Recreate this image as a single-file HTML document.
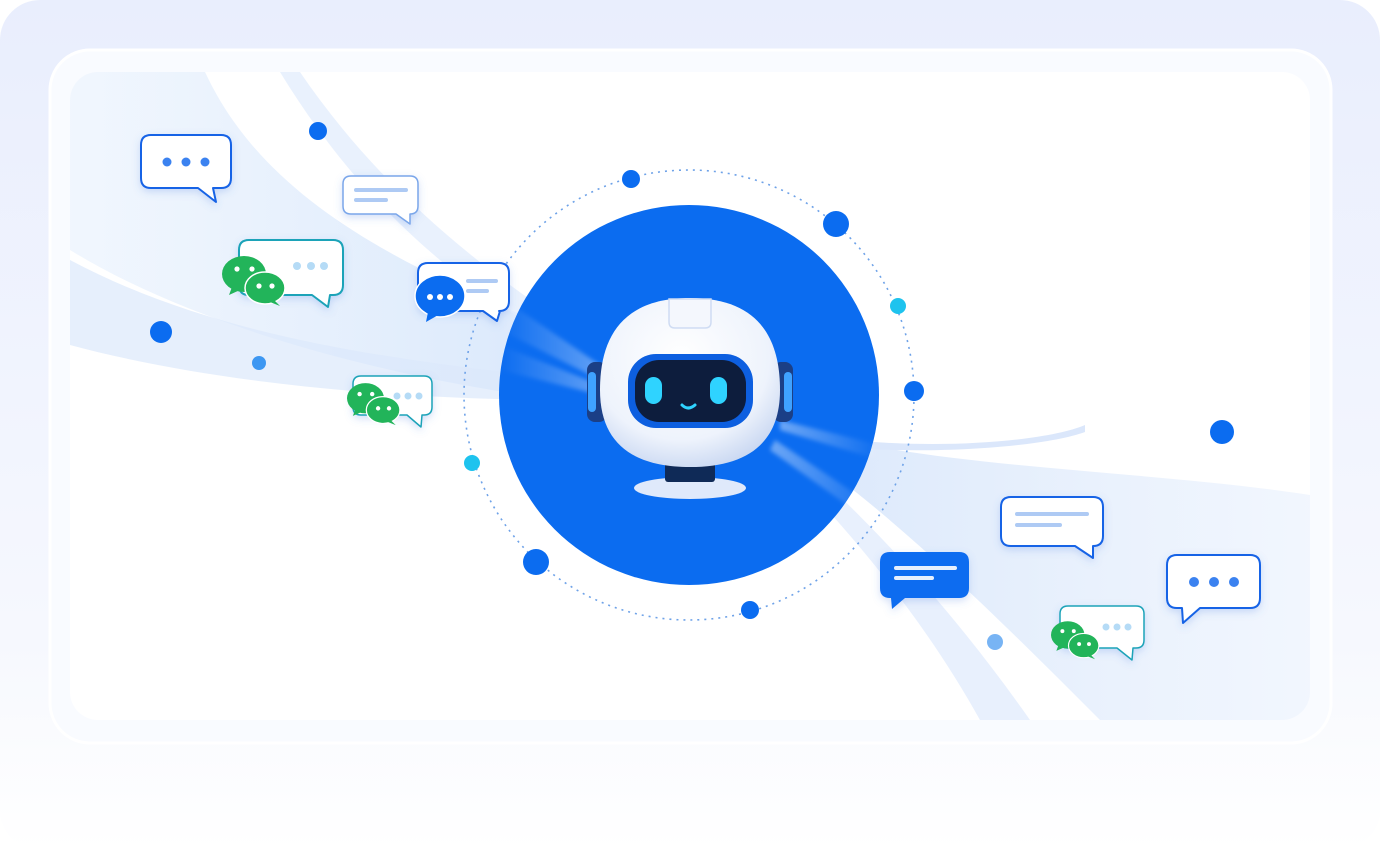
<!DOCTYPE html>
<html><head><meta charset="utf-8"><style>
html,body{margin:0;padding:0;width:1380px;height:850px;overflow:hidden;background:#fff}
</style></head><body>
<svg width="1380" height="850" viewBox="0 0 1380 850" xmlns="http://www.w3.org/2000/svg" font-family="Liberation Sans, sans-serif">
<defs>
<linearGradient id="bg" x1="0" y1="0" x2="0" y2="1">
<stop offset="0" stop-color="#e9eefd"/><stop offset="0.75" stop-color="#f6f8fe"/><stop offset="1" stop-color="#ffffff"/>
</linearGradient>
<linearGradient id="rib" x1="0" y1="0" x2="1" y2="0">
<stop offset="0" stop-color="#d6e6fb" stop-opacity="0.5"/><stop offset="1" stop-color="#c4dbfa" stop-opacity="0.9"/>
</linearGradient>
<linearGradient id="rib2" x1="0" y1="0" x2="1" y2="0">
<stop offset="0" stop-color="#c9ddf9" stop-opacity="0.9"/><stop offset="1" stop-color="#dbe8fc" stop-opacity="0.5"/>
</linearGradient>
<radialGradient id="head" cx="0.45" cy="0.35" r="0.7">
<stop offset="0" stop-color="#ffffff"/><stop offset="0.7" stop-color="#eef3fc"/><stop offset="1" stop-color="#c7d6f1"/>
</radialGradient>
<linearGradient id="beam" x1="0" y1="0" x2="1" y2="0">
<stop offset="0" stop-color="#ffffff" stop-opacity="0"/><stop offset="1" stop-color="#ffffff" stop-opacity="0.35"/>
</linearGradient>
<linearGradient id="beamR" x1="0" y1="0" x2="1" y2="0">
<stop offset="0" stop-color="#ffffff" stop-opacity="0.4"/><stop offset="1" stop-color="#ffffff" stop-opacity="0"/>
</linearGradient>
<filter id="sh" x="-30%" y="-30%" width="160%" height="160%"><feDropShadow dx="0" dy="3" stdDeviation="4" flood-color="#4d7fe0" flood-opacity="0.25"/></filter>
<filter id="bl"><feGaussianBlur stdDeviation="2"/></filter>
</defs>
<rect x="0" y="0" width="1380" height="850" rx="40" fill="url(#bg)"/>
<rect x="50" y="50" width="1281" height="693" rx="40" fill="#f9fbff" stroke="#ffffff" stroke-width="3"/>
<rect x="70" y="72" width="1240" height="648" rx="28" fill="#ffffff"/>
<clipPath id="cp"><rect x="70" y="72" width="1240" height="648" rx="28"/></clipPath>
<g clip-path="url(#cp)">
<path d="M70,72 H205 C260,190 380,260 560,330 L560,400 C400,380 200,330 70,250 Z" fill="url(#rib)" opacity="0.7"/>
<path d="M70,260 C220,340 400,360 570,380 L570,400 C380,400 200,380 70,345 Z" fill="#dbe8fb" opacity="0.7"/>
<path d="M300,72 C360,160 440,240 560,320 L540,330 C420,260 340,170 280,72 Z" fill="#e3eefc" opacity="0.8"/>
<path d="M800,430 C950,470 1150,470 1310,495 L1310,720 H1100 C1000,620 900,520 800,450 Z" fill="url(#rib2)" opacity="0.75"/>
<path d="M780,460 C860,540 930,630 980,720 H1030 C960,620 880,530 790,450 Z" fill="#d8e6fb" opacity="0.6"/>
<path d="M850,440 C950,450 1050,440 1085,425 L1085,432 C1050,445 950,455 850,448 Z" fill="#dbe7fb"/>
</g>
<!-- orbit -->
<circle cx="689" cy="395" r="225" fill="none" stroke="#6ea2e8" stroke-width="1.6" stroke-dasharray="2 5"/>
<circle cx="689" cy="395" r="190" fill="#0b6cf0"/>
<!-- beams -->
<g filter="url(#bl)">
<path d="M505,300 L600,365 L600,380 L500,330 Z" fill="url(#beam)"/>
<path d="M500,345 L600,385 L600,395 L500,370 Z" fill="url(#beam)"/>
<path d="M780,420 L880,445 L880,460 L780,430 Z" fill="url(#beamR)"/>
<path d="M775,440 L880,510 L875,525 L770,450 Z" fill="url(#beamR)"/>
</g>
<!-- robot -->
<ellipse cx="690" cy="488" rx="56" ry="11" fill="#dfe9fb"/>
<rect x="665" y="460" width="50" height="22" rx="3" fill="#0f2a57"/>
<rect x="587" y="362" width="20" height="60" rx="8" fill="#1b3f86"/>
<rect x="588" y="372" width="8" height="40" rx="4" fill="#3fa2ff"/>
<rect x="773" y="362" width="20" height="60" rx="8" fill="#1b3f86"/>
<rect x="784" y="372" width="8" height="40" rx="4" fill="#3fa2ff"/>
<path d="M690,298 C760,298 780,340 780,390 C780,445 745,467 690,467 C635,467 600,445 600,390 C600,340 620,298 690,298 Z" fill="url(#head)"/>
<path d="M669,299 H711 V322 Q711,328 705,328 H675 Q669,328 669,322 Z" fill="#f4f7fd" stroke="#cfdcf3" stroke-width="1.5"/>
<rect x="628" y="354" width="125" height="74" rx="28" fill="#0d5fe0"/>
<rect x="635" y="360" width="111" height="62" rx="24" fill="#0d1d3d"/>
<rect x="645" y="377" width="17" height="27" rx="8.5" fill="#2fd3ff"/>
<rect x="710" y="377" width="17" height="27" rx="8.5" fill="#2fd3ff"/>
<path d="M682,405 Q688,411 695,405" fill="none" stroke="#2fd3ff" stroke-width="3" stroke-linecap="round"/>
<!-- dots -->
<circle cx="318" cy="131" r="9" fill="#0b6cf0"/>
<circle cx="161" cy="332" r="11" fill="#0b6cf0"/>
<circle cx="259" cy="363" r="7" fill="#3d97f2"/>
<circle cx="631" cy="179" r="9" fill="#0b6cf0"/>
<circle cx="836" cy="224" r="13" fill="#0b6cf0"/>
<circle cx="898" cy="306" r="8" fill="#1ec3ee"/>
<circle cx="914" cy="391" r="10" fill="#0b6cf0"/>
<circle cx="472" cy="463" r="8" fill="#1ec3ee"/>
<circle cx="536" cy="562" r="13" fill="#0b6cf0"/>
<circle cx="750" cy="610" r="9" fill="#0b6cf0"/>
<circle cx="1222" cy="432" r="12" fill="#0b6cf0"/>
<circle cx="995" cy="642" r="8" fill="#78b4f4"/>
<!-- bubbles -->
<g filter="url(#sh)" stroke-width="2" stroke-linejoin="round">
<path d="M151,135 H221 Q231,135 231,145 V178 Q231,188 221,188 H213 L216,202 L198,188 H151 Q141,188 141,178 V145 Q141,135 151,135Z" fill="#fff" stroke="#1764e6"/>
<path d="M351,176 H410 Q418,176 418,184 V206 Q418,214 410,214 H410 L410,224 L396,214 H351 Q343,214 343,206 V184 Q343,176 351,176Z" fill="#fff" stroke="#7aa6ea" stroke-width="1.5"/>
<path d="M249,240 H333 Q343,240 343,250 V285 Q343,295 333,295 H330 L328,307 L312,295 H249 Q239,295 239,285 V250 Q239,240 249,240Z" fill="#fff" stroke="#1aa3b8"/>
<path d="M428,263 H499 Q509,263 509,273 V301 Q509,311 499,311 H500 L497,321 L483,311 H428 Q418,311 418,301 V273 Q418,263 428,263Z" fill="#fff" stroke="#1764e6"/>
<path d="M361,376 H424 Q432,376 432,384 V407 Q432,415 424,415 H422 L421,427 L407,415 H361 Q353,415 353,407 V384 Q353,376 361,376Z" fill="#fff" stroke="#1aa3b8" stroke-width="1.5"/>
<path d="M1011,497 H1093 Q1103,497 1103,507 V536 Q1103,546 1093,546 H1093 L1093,558 L1075,546 H1011 Q1001,546 1001,536 V507 Q1001,497 1011,497Z" fill="#fff" stroke="#1764e6"/>
<path d="M890,552 H959 Q969,552 969,562 V588 Q969,598 959,598 H905 L892,609 L891,598 H890 Q880,598 880,588 V562 Q880,552 890,552Z" fill="#0b6cf0"/>
<path d="M1177,555 H1250 Q1260,555 1260,565 V598 Q1260,608 1250,608 H1200 L1183,623 L1182,608 H1177 Q1167,608 1167,598 V565 Q1167,555 1177,555Z" fill="#fff" stroke="#1764e6"/>
<path d="M1068,606 H1136 Q1144,606 1144,614 V640 Q1144,648 1136,648 H1133 L1132,660 L1117,648 H1068 Q1060,648 1060,640 V614 Q1060,606 1068,606Z" fill="#fff" stroke="#1aa3b8" stroke-width="1.5"/>
</g>
<!-- bubble content -->
<g fill="#3b82f0"><circle cx="167" cy="162" r="4.5"/><circle cx="186" cy="162" r="4.5"/><circle cx="205" cy="162" r="4.5"/>
<circle cx="1194" cy="582" r="5"/><circle cx="1214" cy="582" r="5"/><circle cx="1234" cy="582" r="5"/></g>
<g stroke="#aecaf4" stroke-width="4" stroke-linecap="round">
<line x1="356" y1="190" x2="406" y2="190"/><line x1="356" y1="200" x2="386" y2="200"/>
<line x1="468" y1="281" x2="496" y2="281"/><line x1="468" y1="291" x2="487" y2="291"/>
<line x1="1017" y1="514" x2="1087" y2="514"/><line x1="1017" y1="525" x2="1060" y2="525"/>
</g>
<g stroke="#ffffff" stroke-width="4" stroke-linecap="round" opacity="0.9">
<line x1="896" y1="568" x2="955" y2="568"/><line x1="896" y1="578" x2="932" y2="578"/>
</g>
<g fill="#b5dbf6"><circle cx="297" cy="266" r="4"/><circle cx="311" cy="266" r="4"/><circle cx="324" cy="266" r="4"/>
<circle cx="397" cy="396" r="3.5"/><circle cx="408" cy="396" r="3.5"/><circle cx="419" cy="396" r="3.5"/>
<circle cx="1106" cy="627" r="3.5"/><circle cx="1117" cy="627" r="3.5"/><circle cx="1128" cy="627" r="3.5"/></g>
<!-- blue chat icon -->
<ellipse cx="440" cy="296" rx="25" ry="21" fill="#0b6cf0" stroke="#fff" stroke-width="1.5"/>
<path d="M428,312 L426,322 L440,314 Z" fill="#0b6cf0"/>
<g fill="#fff"><circle cx="430" cy="297" r="3"/><circle cx="440" cy="297" r="3"/><circle cx="450" cy="297" r="3"/></g>
<!-- wechat icons -->
<g id="wc">
<ellipse cx="244" cy="274" rx="22" ry="18" fill="#22b45a"/><path d="M232,287 L229,295 L240,290 Z" fill="#22b45a"/>
<circle cx="237" cy="269" r="2.6" fill="#fff"/><circle cx="252" cy="269" r="2.6" fill="#fff"/>
<ellipse cx="265" cy="288" rx="20" ry="16" fill="#22b45a" stroke="#fff" stroke-width="1.5"/><path d="M274,300 L280,306 L270,302 Z" fill="#22b45a"/>
<circle cx="259" cy="286" r="2.6" fill="#fff"/><circle cx="272" cy="286" r="2.6" fill="#fff"/>
</g>
<use href="#wc" transform="translate(347,384) scale(0.84) translate(-222,-257)"/>
<use href="#wc" transform="translate(1051,622) scale(0.76) translate(-222,-257)"/>
</svg>
</body></html>
